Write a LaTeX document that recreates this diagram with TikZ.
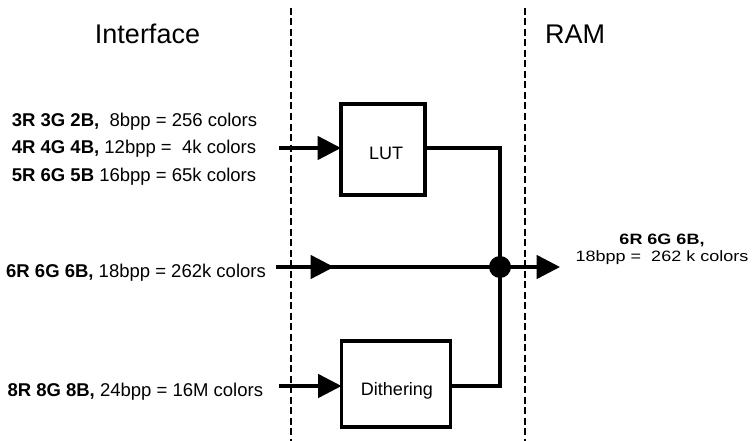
\documentclass[tikz,border=0pt]{standalone}
\usepackage{fontspec}
\setmainfont{Liberation Sans}
\usetikzlibrary{arrows.meta}
\begin{document}
\begin{tikzpicture}[x=1pt,y=-1pt,
  wire/.style={line width=3.6pt},
  arr/.style={wire,-{Triangle[length=23.5pt,width=23.5pt]}},
  blockbox/.style={draw,line width=3.6pt,inner sep=0pt,outer sep=0pt},
  boxtext/.style={font=\fontsize{18}{20}\selectfont,inner sep=0pt,text height=13pt,text depth=0pt},
  sep/.style={line width=1.3pt,dash pattern=on 7pt off 3.5pt},
  title/.style={font=\fontsize{27}{30}\selectfont,anchor=base,inner sep=0pt},
  intext/.style={font=\fontsize{18.5}{20}\selectfont,anchor=base west,inner sep=0pt},
  outtext/.style={font=\fontsize{15}{17.6}\selectfont,align=center,inner sep=0pt,xscale=1.2,anchor=base}]
\useasboundingbox (0,0) rectangle (754,441);
% separators
\draw[sep] (291,8) -- (291,441);
\draw[sep] (525,8) -- (525,441);
% titles
\node[title] (tif) at (147.5,43.5) {Interface};
\node[title,anchor=base west] (tram) at (545,43.5) {RAM};
% blocks
\node[blockbox,minimum width=84pt,minimum height=91pt] (lut) at (383,149.5) {};
\node[boxtext] (lutt) at (386,152.5) {LUT};
\node[blockbox,minimum width=109pt,minimum height=86pt] (dith) at (396,384) {};
\node[boxtext] (ditht) at (397,389) {Dithering};
% junction
\node[circle,fill,inner sep=0pt,minimum size=22pt] (junc) at (500,267) {};
% input texts
\node[intext] (t1) at (11.7,126.7) {\textbf{3R 3G 2B,}\ \ 8bpp = 256 colors};
\node[intext] (t2) at (11.7,153.3) {\textbf{4R 4G 4B,} 12bpp =\ \ 4k colors};
\node[intext] (t3) at (11.7,181.7) {\textbf{5R 6G 5B} 16bpp = 65k colors};
\node[intext] (t4) at (6,277.3) {\textbf{6R 6G 6B,} 18bpp = 262k colors};
\node[intext] (t5) at (7.3,396.7) {\textbf{8R 8G 8B,} 24bpp = 16M colors};
\node[outtext] (t6) at (662,261.7) {\textbf{6R 6G 6B,}\\18bpp =\ \ 262 k colors};
% coordinates
\coordinate (in1) at (279,148);
\coordinate (in2) at (276,267);
\coordinate (mid2) at (334,267);
\coordinate (in3) at (279,386);
\coordinate (out) at (560,267);
% connectors
\draw[arr] (in1) -- (lut.west |- in1);
\draw[wire] (in2) -- (junc.center);
\draw[arr] (in2) -- (mid2);
\draw[arr] (in3) -- (dith.west |- in3);
\draw[wire] (lut.east |- in1) -| (junc.center);
\draw[wire] (dith.east |- in3) -| (junc.center);
\draw[arr] (junc.center) -- (out);
\end{tikzpicture}
\end{document}
